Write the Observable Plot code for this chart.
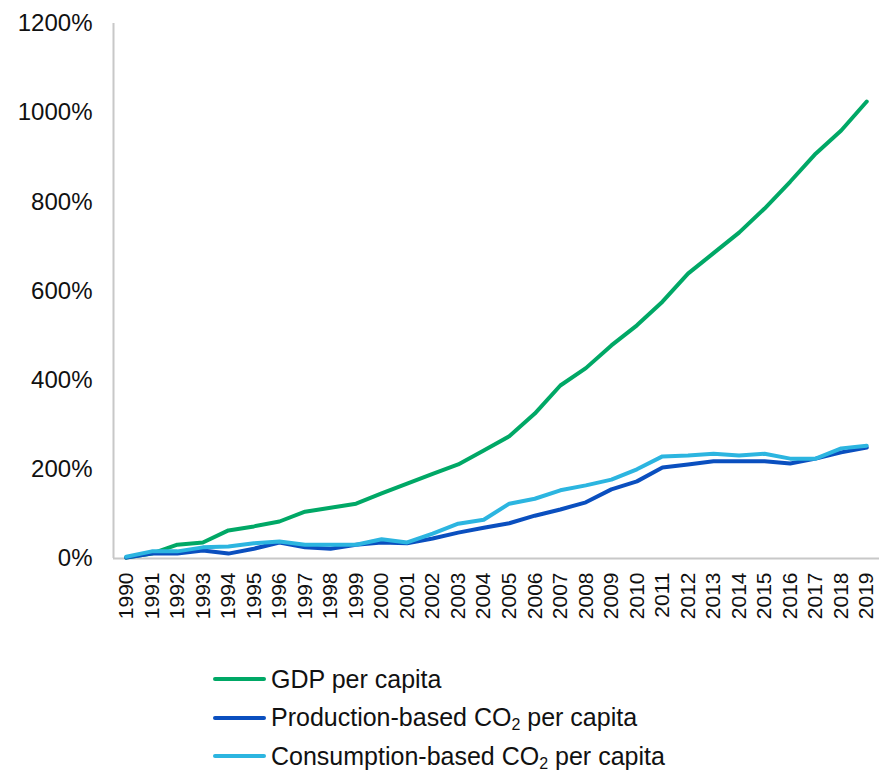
<!DOCTYPE html>
<html>
<head>
<meta charset="utf-8">
<script src="https://cdn.jsdelivr.net/npm/d3@7"></script>
<script src="https://cdn.jsdelivr.net/npm/@observablehq/plot@0.6"></script>
<style>
  html, body { margin: 0; padding: 0; background: #fff; }
  body { width: 879px; height: 773px; overflow: hidden; font-family: "Liberation Sans", Arial, sans-serif; color: #111; }
  #legend { position: absolute; left: 213px; top: 660px; font-size: 25px; }
  .item { display: flex; align-items: center; height: 38.5px; }
  .swatch { width: 53px; height: 4px; margin-right: 5px; border-radius: 2px; }
  sub { font-size: 16px; vertical-align: -4px; line-height: 0; }
</style>
</head>
<body>
<div id="chart"></div>
<div id="legend"></div>
<script>
const years = d3.range(1990, 2020);
const gdp = [2, 11, 31, 36, 63, 72, 83, 105, 114, 123, 146, 168, 190, 211, 242, 274, 325, 388, 427, 478, 523, 576, 639, 685, 731, 785, 845, 908, 960, 1025];
const production = [2, 11, 11, 18, 11, 22, 36, 25, 22, 31, 36, 34, 45, 58, 69, 79, 96, 110, 126, 155, 173, 204, 211, 218, 218, 218, 213, 224, 238, 249];
const consumption = [4, 16, 16, 25, 27, 34, 38, 31, 31, 31, 43, 36, 56, 78, 87, 123, 134, 153, 164, 177, 200, 229, 231, 235, 231, 235, 224, 224, 247, 253];
const seriesNames = ["GDP per capita", "Production-based CO₂ per capita", "Consumption-based CO₂ per capita"];
const seriesColors = ["#00a866", "#0a4fbf", "#2cb5e0"];
const yTicks = [0, 200, 400, 600, 800, 1000, 1200];

const rows = [];
[gdp, production, consumption].forEach((arr, s) => {
  arr.forEach((v, i) => rows.push({year: years[i], value: v, series: seriesNames[s]}));
});

const step = 766 / years.length;

const chart = Plot.plot({
  width: 879,
  height: 645,
  marginLeft: 113,
  marginRight: 0,
  marginTop: 23,
  marginBottom: 87,
  style: {fontFamily: "Liberation Sans, Arial, sans-serif", background: "#fff", color: "#111"},
  x: {type: "point", domain: years, padding: 0.5, round: false, label: null},
  y: {domain: [0, 1200], label: null},
  color: {domain: seriesNames, range: seriesColors},
  marks: [
    Plot.ruleY([0], {stroke: "#c8c8c8", strokeWidth: 2}),
    Plot.ruleX([1990], {x: d => d, dx: -step / 2, y1: 0, y2: 1200, stroke: "#c8c8c8", strokeWidth: 2}),
    Plot.axisY(yTicks, {tickSize: 0, tickPadding: 21, fontSize: 24, tickFormat: d => d + "%", fill: "#111"}),
    Plot.axisX(years, {tickSize: 0, tickRotate: -90, tickPadding: 14, fontSize: 21, tickFormat: d => String(d), fill: "#111"}),
    Plot.line(rows, {x: "year", y: "value", z: "series", stroke: "series", strokeWidth: 4, strokeLinejoin: "round", strokeLinecap: "round"})
  ]
});
document.getElementById("chart").appendChild(chart);

const legendHtml = [
  "GDP per capita",
  "Production-based CO<sub>2</sub> per capita",
  "Consumption-based CO<sub>2</sub> per capita"
];
const legend = document.getElementById("legend");
legendHtml.forEach((t, i) => {
  const item = document.createElement("div");
  item.className = "item";
  item.innerHTML = `<span class="swatch" style="background:${seriesColors[i]}"></span><span>${t}</span>`;
  legend.appendChild(item);
});
</script>
</body>
</html>
